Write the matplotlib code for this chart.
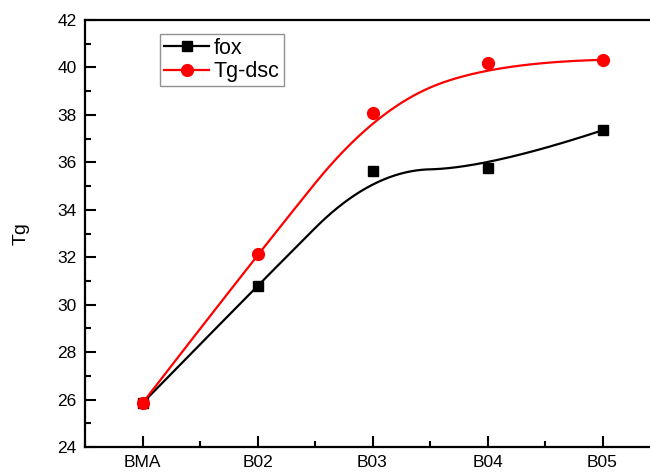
import numpy as np
import matplotlib.pyplot as plt
from matplotlib.ticker import MultipleLocator

plt.rcParams['font.family'] = ['Liberation Sans', 'DejaVu Sans']

samples = ["BMA", "B02", "B03", "B04", "B05"]
fox = [25.85, 30.8, 35.65, 35.76, 37.35]
tg_dsc = [25.85, 32.12, 38.1, 40.2, 40.32]


# clamped quadratic B-spline, data points used as control points
def bspline(px, py, k=2, n=300):
    m = len(px)
    knots = np.concatenate([np.zeros(k), np.arange(m - k + 1), np.full(k, m - k)])
    u = np.linspace(0, m - k, n)
    u[-1] -= 1e-9

    def basis(i, p, t):
        if p == 0:
            return ((knots[i] <= t) & (t < knots[i + 1])).astype(float)
        out = np.zeros_like(t)
        d1 = knots[i + p] - knots[i]
        d2 = knots[i + p + 1] - knots[i + 1]
        if d1 > 0:
            out += (t - knots[i]) / d1 * basis(i, p - 1, t)
        if d2 > 0:
            out += (knots[i + p + 1] - t) / d2 * basis(i + 1, p - 1, t)
        return out

    N = np.array([basis(i, k, u) for i in range(m)])
    return N.T @ np.asarray(px, float), N.T @ np.asarray(py, float)


x = np.arange(len(samples))

fig = plt.figure(figsize=(6.5, 4.72), dpi=100)
ax = fig.add_axes([85 / 650, 25 / 472, 575 / 650, 427 / 472])

bx, by = bspline(x, fox)
ax.plot(bx, by, color='black', lw=1.6)
rx, ry = bspline(x, tg_dsc)
ax.plot(rx, ry, color='red', lw=1.6)

ax.plot(x, fox, 's', color='black', ms=7)
ax.plot(x, tg_dsc, 'o', color='red', ms=8.5)

# legend handles: line with marker in the middle
h1, = ax.plot([], [], '-s', color='black', lw=1.6, ms=7, label='fox')
h2, = ax.plot([], [], '-o', color='red', lw=1.6, ms=8.5, label='Tg-dsc')
leg = ax.legend(handles=[h1, h2], loc='upper left', bbox_to_anchor=(0.13, 0.968),
                numpoints=1, fontsize=15.5, frameon=True, fancybox=False,
                handlelength=2.1, handletextpad=0.2, borderpad=0.2,
                labelspacing=0.1, borderaxespad=0)
leg.get_frame().set_edgecolor('#777777')
leg.get_frame().set_linewidth(1.0)

ax.set_xlim(-0.5, 4.5)
ax.set_ylim(24, 42)
ax.set_xticks(x)
ax.set_xticklabels(samples)
ax.xaxis.set_minor_locator(MultipleLocator(0.5))
ax.yaxis.set_major_locator(MultipleLocator(2))
ax.yaxis.set_minor_locator(MultipleLocator(1))
ax.tick_params(which='both', direction='in', width=1.5, labelsize=12.5)
ax.tick_params(axis='x', pad=6)
ax.tick_params(axis='y', pad=6)
ax.tick_params(which='major', length=8)
ax.tick_params(which='minor', length=4)
for s in ax.spines.values():
    s.set_linewidth(1.6)

ax.set_ylabel("Tg", fontsize=14, labelpad=20)

fig.savefig("out.png", dpi=100)
